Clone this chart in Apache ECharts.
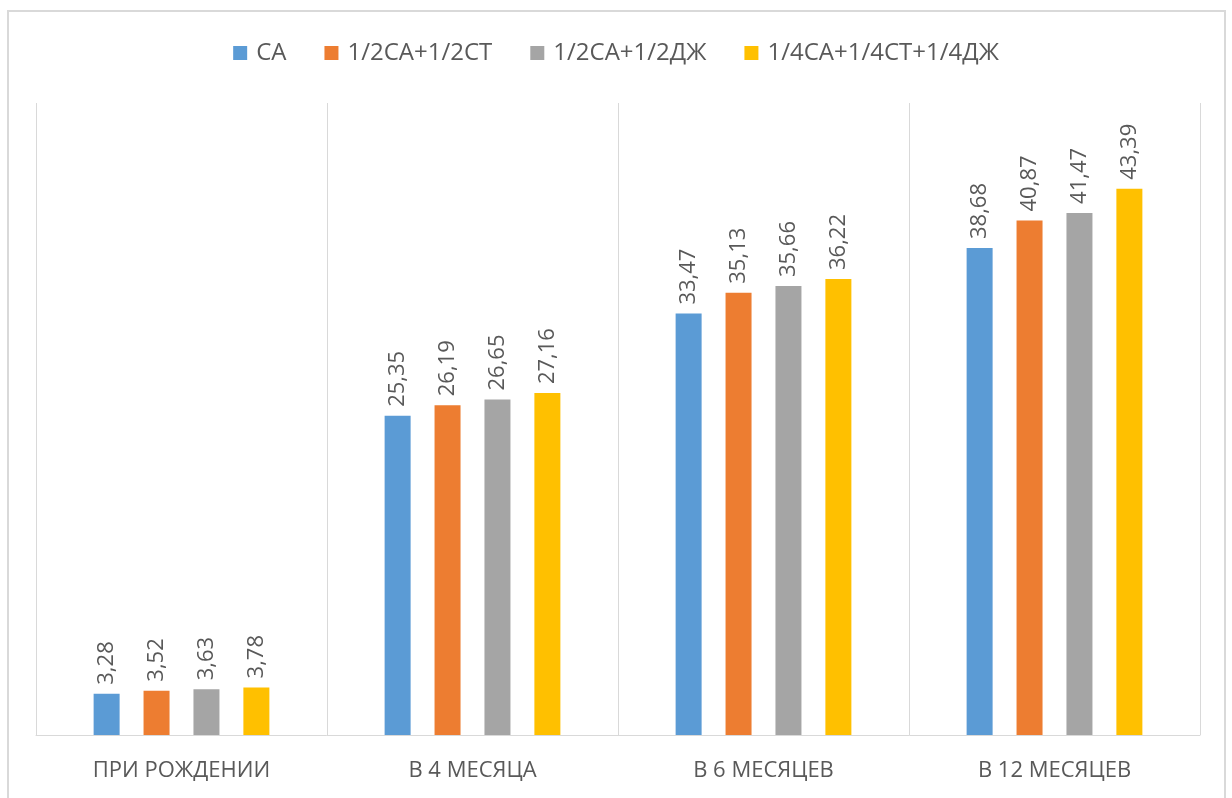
<!DOCTYPE html>
<html>
<head>
<meta charset="utf-8">
<script src="https://cdn.jsdelivr.net/npm/echarts@6/dist/echarts.min.js"></script>
<style>
html,body{margin:0;padding:0;background:#fff;}
#main{width:1232px;height:798px;}
</style>
</head>
<body>
<div id="main"></div>
<script>
const categories = ['ПРИ РОЖДЕНИИ', 'В 4 МЕСЯЦА', 'В 6 МЕСЯЦЕВ', 'В 12 МЕСЯЦЕВ'];
const seriesNames = ['СА', '1/2СА+1/2СТ', '1/2СА+1/2ДЖ', '1/4СА+1/4СТ+1/4ДЖ'];
const valuesSA = [3.28, 25.35, 33.47, 38.68];
const valuesSAST = [3.52, 26.19, 35.13, 40.87];
const valuesSADJ = [3.63, 26.65, 35.66, 41.47];
const valuesSASTDJ = [3.78, 27.16, 36.22, 43.39];
const colors = ['#5b9bd5', '#ed7d31', '#a5a5a5', '#ffc000'];

const allValues = [valuesSA, valuesSAST, valuesSADJ, valuesSASTDJ];
const fontFam = '"Open Sans", "DejaVu Sans", sans-serif';

const chart = echarts.init(document.getElementById('main'));
chart.setOption({
  animation: false,
  backgroundColor: '#ffffff',
  color: colors,
  graphic: [{
    type: 'rect',
    shape: {x: 8, y: 11, width: 1217, height: 790},
    style: {fill: 'none', stroke: '#d9d9d9', lineWidth: 2},
    silent: true
  }],
  legend: {
    top: 36,
    left: 'center',
    itemWidth: 14,
    itemHeight: 14,
    itemGap: 38,
    icon: 'rect',
    textStyle: {color: '#595959', fontSize: 24, fontFamily: fontFam, padding: [0, 0, 0, 4]},
    data: seriesNames
  },
  grid: {left: 36, right: 32, top: 103, bottom: 63, containLabel: false},
  xAxis: {
    type: 'category',
    data: categories,
    axisLine: {show: true, lineStyle: {color: '#d9d9d9', width: 1}},
    axisTick: {show: false},
    splitLine: {show: true, interval: 0, lineStyle: {color: '#d9d9d9', width: 1}},
    axisLabel: {color: '#595959', fontSize: 22, fontFamily: fontFam, margin: 25, interval: 0}
  },
  yAxis: {
    type: 'value',
    min: 0,
    max: 50.2,
    show: false,
    splitLine: {show: false}
  },
  series: allValues.map((vals, i) => ({
    name: seriesNames[i],
    type: 'bar',
    data: vals,
    barWidth: 26,
    barGap: '92%',
    itemStyle: {color: colors[i]},
    label: {
      show: true,
      position: 'top',
      rotate: 90,
      align: 'left',
      verticalAlign: 'middle',
      distance: 9,
      color: '#595959',
      fontSize: 22,
      fontFamily: fontFam,
      formatter: p => p.value.toFixed(2).replace('.', ',')
    }
  }))
});
</script>
</body>
</html>
